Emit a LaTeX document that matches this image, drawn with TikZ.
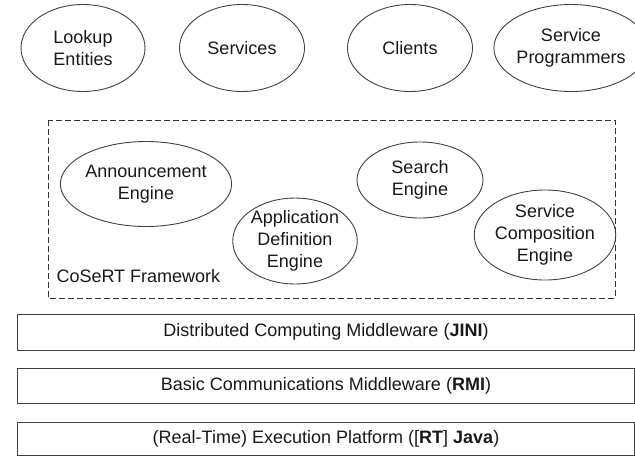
\documentclass[tikz,border=0pt]{standalone}
\usepackage{fontspec}
\setmainfont{Liberation Sans}
\usetikzlibrary{shapes.geometric}

\tikzset{
  every node/.style={font=\fontsize{18}{22}\selectfont, text=black!90},
  actor/.style={ellipse, draw=black!75, line width=0.9pt, inner sep=0pt,
                align=center},
  layer/.style={draw=black!75, line width=0.9pt, inner sep=0pt},
  frame/.style={draw=black!80, line width=0.9pt, dash pattern=on 6pt off 3pt},
}

\begin{document}
\begin{tikzpicture}[x=1pt, y=-1pt]
  \useasboundingbox (0,0) rectangle (635,456);

  % users of the framework
  \node[actor, minimum width=124pt, minimum height=87pt] (lookup)   at (83,48)  {Lookup\\Entities};
  \node[actor, minimum width=125pt, minimum height=87pt] (services) at (242,48) {Services};
  \node[actor, minimum width=125pt, minimum height=87pt] (clients)  at (410,48) {Clients};
  \node[actor, minimum width=125pt, minimum height=87pt] (progs)    at (571,48) {Service\\Programmers};

  % CoSeRT framework with its engines
  \draw[frame] (48,120) rectangle (615,298);
  \node[anchor=west] (fwlabel) at (53,276) {CoSeRT Framework};

  \node[actor, minimum width=143pt, minimum height=85pt] (announce) at (146,184) {Announcement\\Engine};
  \node[actor, minimum width=124pt, minimum height=76pt] (appdef)   at (295,241) {Application\\Definition\\Engine};
  \node[actor, minimum width=126pt, minimum height=76pt] (search)   at (420,180) {Search\\Engine};
  \node[actor, minimum width=125pt, minimum height=90pt] (compose)  at (545,235) {Service\\Composition\\Engine};

  % platform layers
  \draw[layer] (17,314) rectangle (634.5,350);
  \node (jini) at (326,332) {Distributed Computing Middleware (\textbf{JINI})};
  \draw[layer] (17,368) rectangle (634.5,403);
  \node (rmi) at (326,385.5) {Basic Communications Middleware (\textbf{RMI})};
  \draw[layer] (17,422) rectangle (634.5,455.5);
  \node (java) at (326,439) {(Real-Time) Execution Platform ([\textbf{RT}] \textbf{Java})};
\end{tikzpicture}
\end{document}
